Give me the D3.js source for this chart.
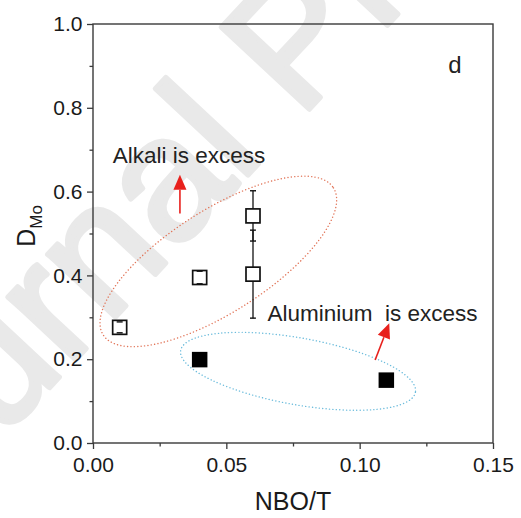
<!DOCTYPE html>
<html>
<head>
<meta charset="utf-8">
<script src="https://cdn.jsdelivr.net/npm/d3@7"></script>
<style>
  body { margin: 0; background: #fff; }
  svg { font-family: 'Liberation Sans', Arial, sans-serif; }
</style>
</head>
<body>
<svg id="chart" width="521" height="518"></svg>
<script>
// values
const openX = [0.01, 0.04, 0.06, 0.06];
const openY = [0.276, 0.395, 0.542, 0.403];
const openErr = [0.013, 0.015, 0.06, 0.105];
const filledX = [0.04, 0.11];
const filledY = [0.199, 0.150];

const xTicks = [0, 0.05, 0.10, 0.15];
const yTicks = [0, 0.2, 0.4, 0.6, 0.8, 1.0];
const xMinor = [0.025, 0.075, 0.125];
const yMinor = [0.1, 0.3, 0.5, 0.7, 0.9];

// annotations (data units for anchors, px for ellipse radii)
const labels = [
  { text: 'Alkali is excess', x: 0.0074, y: 0.669 },
  { text: 'Aluminium\u00a0 is excess', x: 0.0654, y: 0.291 },
];
const arrows = [
  { x1: 0.0326, y1: 0.548, x2: 0.0326, y2: 0.640 },
  { x1: 0.1058, y1: 0.198, x2: 0.1111, y2: 0.286 },
];
const ellipses = [
  { cx: 0.047, cy: 0.4334, rx: 136.6, ry: 51.1, angle: -32.6, color: '#e2765a' },
  { cx: 0.0769, cy: 0.1711, rx: 119.2, ry: 33.4, angle: 10.1, color: '#6cbcdc' },
];

const margin = { top: 24, right: 28, bottom: 75, left: 93 };
const width = 521 - margin.left - margin.right;
const height = 518 - margin.top - margin.bottom;

const svg = d3.select('#chart');

// faint "Journal Pre-proof" watermark behind the plot
svg.append('text')
  .attr('transform', 'translate(-125,575) rotate(-47)')
  .attr('font-size', 175)
  .attr('fill', '#e9e9e9')
  .attr('stroke', '#e9e9e9')
  .attr('stroke-width', 5)
  .attr('stroke-linejoin', 'round')
  .text('Journal Pre-proof');

const g = svg.append('g')
  .attr('transform', `translate(${margin.left},${margin.top})`);

const x = d3.scaleLinear().domain([0, 0.15]).range([0, width]);
const y = d3.scaleLinear().domain([0, 1]).range([height, 0]);

const axisColor = '#3a3a3a';

// minor ticks first
g.append('g')
  .attr('transform', `translate(0,${height})`)
  .call(d3.axisBottom(x).tickValues(xMinor).tickSize(3.5).tickFormat(''))
  .call(a => a.select('.domain').remove());
g.append('g')
  .call(d3.axisLeft(y).tickValues(yMinor).tickSize(3.5).tickFormat(''))
  .call(a => a.select('.domain').remove());

const xAxis = g.append('g')
  .attr('transform', `translate(0,${height})`)
  .call(d3.axisBottom(x).tickValues(xTicks).tickSize(6).tickPadding(7.7)
    .tickFormat(d3.format('.2f')));
const yAxis = g.append('g')
  .call(d3.axisLeft(y).tickValues(yTicks).tickSize(6).tickPadding(4.5)
    .tickFormat(d3.format('.1f')));

[xAxis, yAxis].forEach(a => {
  a.select('.domain').remove();
  a.selectAll('text').attr('font-size', 21).attr('fill', '#1a1a1a')
    .attr('font-family', "'Liberation Sans', Arial, sans-serif");
});
g.selectAll('.tick line').attr('stroke', axisColor).attr('stroke-width', 1.3);

// frame
g.append('rect')
  .attr('width', width).attr('height', height)
  .attr('fill', 'none').attr('stroke', axisColor).attr('stroke-width', 1.4);

// ellipses
ellipses.forEach(e => {
  g.append('ellipse')
    .attr('transform', `translate(${x(e.cx)},${y(e.cy)}) rotate(${e.angle})`)
    .attr('rx', e.rx).attr('ry', e.ry)
    .attr('fill', 'none')
    .attr('stroke', e.color)
    .attr('stroke-width', 1.4)
    .attr('stroke-linecap', 'round')
    .attr('stroke-dasharray', '0.1,3.3');
});

const open = openX.map((v, i) => ({ x: v, y: openY[i], e: openErr[i] }));

// error bar stems (behind the squares)
const eb = g.append('g').attr('stroke', '#111').attr('stroke-width', 1.3);
open.forEach(d => {
  eb.append('line').attr('x1', x(d.x)).attr('x2', x(d.x))
    .attr('y1', y(d.y - d.e)).attr('y2', y(d.y + d.e));
});

// open squares, white filled
const so = 14;
g.append('g').selectAll('rect').data(open).join('rect')
  .attr('x', d => x(d.x) - so / 2).attr('y', d => y(d.y) - so / 2)
  .attr('width', so).attr('height', so)
  .attr('fill', '#fff').attr('stroke', '#111').attr('stroke-width', 1.7);

// error bar caps (drawn over the squares)
const caps = g.append('g').attr('stroke', '#111').attr('stroke-width', 1.4);
open.forEach(d => {
  [d.y - d.e, d.y + d.e].forEach(v => {
    caps.append('line').attr('x1', x(d.x) - 3).attr('x2', x(d.x) + 3)
      .attr('y1', y(v)).attr('y2', y(v));
  });
});

// filled squares
const sf = 15.5;
const filled = filledX.map((v, i) => ({ x: v, y: filledY[i] }));
g.append('g').selectAll('rect').data(filled).join('rect')
  .attr('x', d => x(d.x) - sf / 2).attr('y', d => y(d.y) - sf / 2)
  .attr('width', sf).attr('height', sf)
  .attr('fill', '#000');

// arrows
const red = '#e8201c';
arrows.forEach(a => {
  const x1 = x(a.x1), y1 = y(a.y1), x2 = x(a.x2), y2 = y(a.y2);
  const ang = Math.atan2(y2 - y1, x2 - x1);
  const hl = 15, hw = 6.5;
  const bx = x2 - hl * Math.cos(ang), by = y2 - hl * Math.sin(ang);
  g.append('line').attr('x1', x1).attr('y1', y1).attr('x2', bx).attr('y2', by)
    .attr('stroke', red).attr('stroke-width', 1.6);
  const px = -Math.sin(ang) * hw, py = Math.cos(ang) * hw;
  g.append('path')
    .attr('d', `M${x2},${y2}L${bx + px},${by + py}L${bx - px},${by - py}Z`)
    .attr('fill', red);
});

// text labels
g.selectAll('.note').data(labels).join('text')
  .attr('class', 'note')
  .attr('x', d => x(d.x)).attr('y', d => y(d.y))
  .attr('font-size', 22.5).attr('fill', '#222')
  .text(d => d.text);

g.append('text')
  .attr('x', x(0.1332)).attr('y', y(0.884))
  .attr('font-size', 24).attr('fill', '#222')
  .text('d');

// axis titles
svg.append('text')
  .attr('x', margin.left + width / 2).attr('y', 510)
  .attr('text-anchor', 'middle')
  .attr('font-size', 25).attr('fill', '#1a1a1a')
  .text('NBO/T');

const yt = svg.append('text')
  .attr('transform', 'translate(35,226) rotate(-90)')
  .attr('text-anchor', 'middle')
  .attr('font-size', 25).attr('fill', '#1a1a1a');
yt.append('tspan').text('D');
yt.append('tspan').attr('font-size', 17).attr('dy', 7).text('Mo');
</script>
</body>
</html>
